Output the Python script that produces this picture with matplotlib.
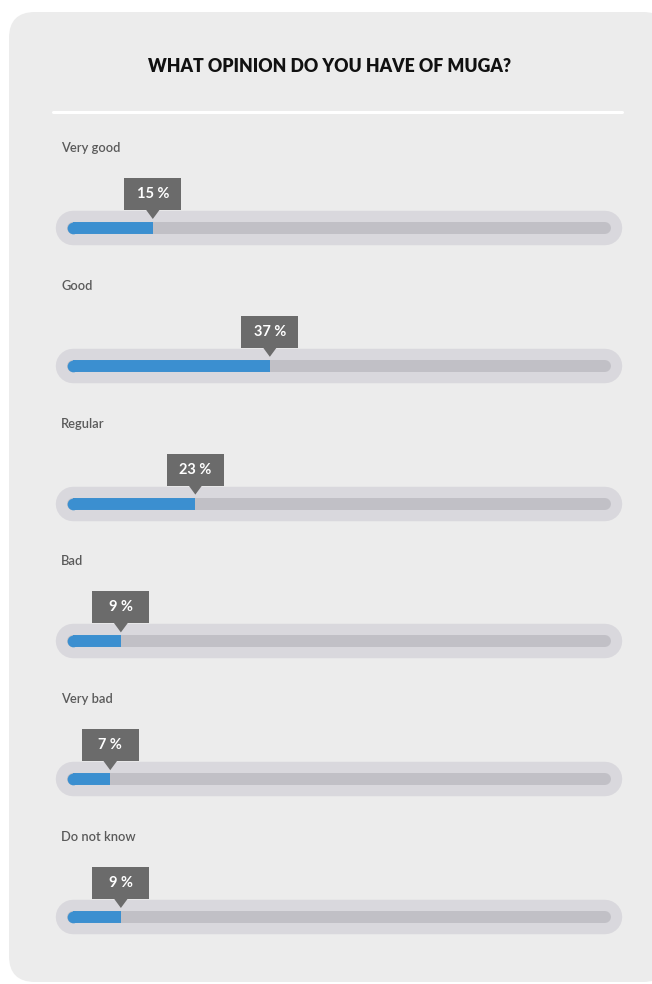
import matplotlib
matplotlib.use("Agg")
import matplotlib.pyplot as plt
from matplotlib.patches import FancyBboxPatch, Rectangle, Polygon

title = "WHAT OPINION DO YOU HAVE OF MUGA?"
categories = ["Very good", "Good", "Regular", "Bad", "Very bad", "Do not know"]
values = [15, 37, 23, 9, 7, 9]

card_color = "#ececec"
pill_color = "#d9d8dd"
track_color = "#c1c0c6"
blue = "#3b8fd0"
tag_color = "#6b6b6b"

fig = plt.figure(figsize=(6.52, 9.84), dpi=100)
fig.patch.set_facecolor("white")

# background axes in pixel units (card, title, divider)
bg = fig.add_axes([0, 0, 1, 1])
bg.set_xlim(0, 652)
bg.set_ylim(984, 0)
bg.axis("off")

card = FancyBboxPatch((9, 12), 660, 970, boxstyle="round,pad=0,rounding_size=26",
                      facecolor=card_color, edgecolor="none")
bg.add_patch(card)
bg.plot([53, 622], [112, 112], color="white", lw=2.2, solid_capstyle="round")
bg.text(330, 67, title, ha="center", va="center", fontsize=12.7,
        fontweight="heavy", family="Lato", color="#111111")

# bar axes: x in percent, y in category index
top, bottom = 159, 959
ax = fig.add_axes([73 / 652, 1 - bottom / 984, (605 - 73) / 652, (bottom - top) / 984])
ax.set_xlim(0, 100)
step = 137.8
ax.set_ylim(5 + (bottom - 917) / step, -(228 - top) / step)
ax.axis("off")

# overlay axes in pixel units for labels and callouts
fg = fig.add_axes([0, 0, 1, 1])
fg.set_xlim(0, 652)
fg.set_ylim(984, 0)
fg.axis("off")

for i, (cat, v) in enumerate(zip(categories, values)):
    ax.plot([0, 100], [i, i], color=pill_color, lw=24.8, solid_capstyle="round", clip_on=False, zorder=1)
    ax.plot([0, 100], [i, i], color=track_color, lw=8.6, solid_capstyle="round", clip_on=False, zorder=2)
    ax.plot([0, v], [i, i], color=blue, lw=8.6, solid_capstyle="butt", clip_on=False, zorder=3)
    ax.plot([0], [i], marker="o", ms=8.4, mew=0, color=blue, clip_on=False, zorder=3)

    # positions in pixel space, derived from the data transform
    x0, y0 = fg.transData.inverted().transform(ax.transData.transform((0, i)))
    xe, ye = fg.transData.inverted().transform(ax.transData.transform((v, i)))

    fg.text(x0 - 12, y0 - 80, cat, ha="left", va="center", fontsize=9.3,
            fontweight="semibold", family="Lato", color="#5a5a5a")

    bw, bh = 57, 32
    fg.add_patch(Rectangle((xe - bw / 2, ye - 18 - bh), bw, bh, facecolor=tag_color,
                           edgecolor="none", zorder=4))
    fg.add_patch(Polygon([[xe - 7, ye - 18.5], [xe + 7, ye - 18.5], [xe, ye - 9]],
                         closed=True, facecolor=tag_color, edgecolor="none", zorder=4))
    fg.text(xe, ye - 18 - bh / 2, f"{v} %", ha="center", va="center", fontsize=10.5,
            fontweight="bold", family="Lato", color="white", zorder=5)

fig.savefig("out.png", dpi=100)
